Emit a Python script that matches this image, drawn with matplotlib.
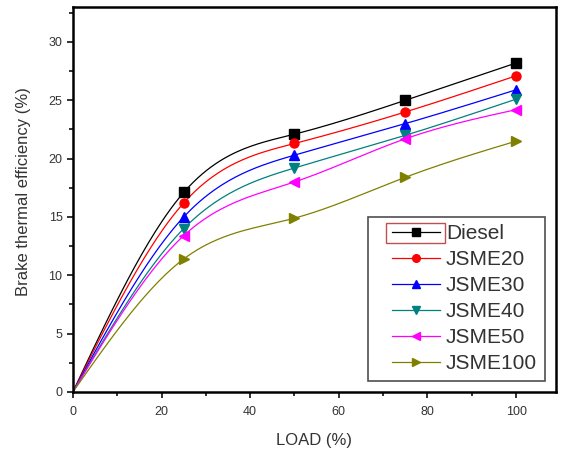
import numpy as np
import matplotlib
matplotlib.use("Agg")
import matplotlib.pyplot as plt
from matplotlib.patches import Rectangle
from matplotlib.lines import Line2D
from matplotlib.legend_handler import HandlerLine2D

plt.rcParams['font.family'] = ['Liberation Sans', 'DejaVu Sans']

load = [0, 25, 50, 75, 100]
series_names = ["Diesel", "JSME20", "JSME30", "JSME40", "JSME50", "JSME100"]
diesel = [0, 17.1, 22.1, 25.0, 28.2]
jsme20 = [0, 16.2, 21.3, 24.0, 27.1]
jsme30 = [0, 15.0, 20.3, 23.0, 25.9]
jsme40 = [0, 14.0, 19.2, 22.0, 25.1]
jsme50 = [0, 13.4, 18.0, 21.7, 24.2]
jsme100 = [0, 11.4, 14.9, 18.4, 21.5]
values = [diesel, jsme20, jsme30, jsme40, jsme50, jsme100]
colors = ["#000000", "#ff0000", "#0000ff", "#008080", "#ff00ff", "#808000"]
markers = ["s", "o", "^", "v", "<", ">"]
xticks = [0, 20, 40, 60, 80, 100]
yticks = [0, 5, 10, 15, 20, 25, 30]


def natural_spline(x, y, n=200):
    x = np.asarray(x, float); y = np.asarray(y, float)
    k = len(x)
    h = np.diff(x)
    A = np.zeros((k, k)); b = np.zeros(k)
    A[0, 0] = 1; A[-1, -1] = 1
    for i in range(1, k - 1):
        A[i, i - 1] = h[i - 1]; A[i, i] = 2 * (h[i - 1] + h[i]); A[i, i + 1] = h[i]
        b[i] = 3 * ((y[i + 1] - y[i]) / h[i] - (y[i] - y[i - 1]) / h[i - 1])
    c = np.linalg.solve(A, b)
    xs = np.linspace(x[0], x[-1], n)
    ys = np.empty_like(xs)
    for j, xv in enumerate(xs):
        i = min(np.searchsorted(x, xv, side='right') - 1, k - 2)
        bb = (y[i + 1] - y[i]) / h[i] - h[i] * (2 * c[i] + c[i + 1]) / 3
        d = (c[i + 1] - c[i]) / (3 * h[i])
        t = xv - x[i]
        ys[j] = y[i] + bb * t + c[i] * t ** 2 + d * t ** 3
    return xs, ys


fig = plt.figure(figsize=(5.65, 4.54), dpi=100)
ax = fig.add_axes([0.129, 0.1366, 0.855, 0.848])

handles = []
for name, vals, col, mk in zip(series_names, values, colors, markers):
    xs, ys = natural_spline(load, vals)
    ax.plot(xs, ys, color=col, lw=0.9, zorder=2)
    ax.plot(load[1:], vals[1:], ls='none', marker=mk, color=col, ms=6.5, zorder=3)
    h = Line2D([], [], color=col, lw=0.9, marker=mk, ms=5.5, label=name)
    handles.append(h)

ax.set_xlim(0, 109)
ax.set_ylim(0, 33)
ax.set_xticks(xticks)
ax.set_yticks(yticks)
ax.set_xticks([10, 30, 50, 70, 90], minor=True)
ax.set_yticks([2.5, 7.5, 12.5, 17.5, 22.5, 27.5, 32.5], minor=True)
ax.tick_params(which='both', direction='out', labelsize=9, colors='#222222',
               labelcolor='#333333', width=1.3)
ax.tick_params(which='major', length=4)
ax.tick_params(which='minor', length=3)
ax.tick_params(axis='x', pad=6)
for s in ax.spines.values():
    s.set_linewidth(1.8)
ax.set_xlabel("LOAD (%)", fontsize=12, color='#333333', labelpad=11)
ax.set_ylabel("Brake thermal efficiency (%)", fontsize=12, color='#333333')
ax.yaxis.set_label_coords(-0.087, 0.52)

hmap = {h: HandlerLine2D(xpad=0.8) for h in handles}
leg = ax.legend(handles=handles, handler_map=hmap, loc='lower right', fontsize=15,
                frameon=True, fancybox=False, edgecolor='#222222', handlelength=3.1,
                borderaxespad=0.55, labelspacing=0.34, handletextpad=0.3,
                borderpad=0.35)
leg.get_frame().set_linewidth(1.2)
for t in leg.get_texts():
    t.set_color('#333333')

# selection highlight around the first legend handle
fig.canvas.draw()
r = fig.canvas.get_renderer()
tb = leg.get_texts()[0].get_window_extent(r)
hb = leg.legend_handles[0].get_window_extent(r)
fx0 = hb.x0 - 2
fx1 = tb.x0 - 1
fy0 = tb.y0
fy1 = tb.y1 + 1
W, H = fig.bbox.width, fig.bbox.height
rect = Rectangle((fx0 / W, fy0 / H), (fx1 - fx0) / W, (fy1 - fy0) / H,
                 transform=fig.transFigure, fill=False, edgecolor='#c05050', lw=1.0,
                 zorder=10)
fig.add_artist(rect)

fig.savefig("out.png", dpi=100)
